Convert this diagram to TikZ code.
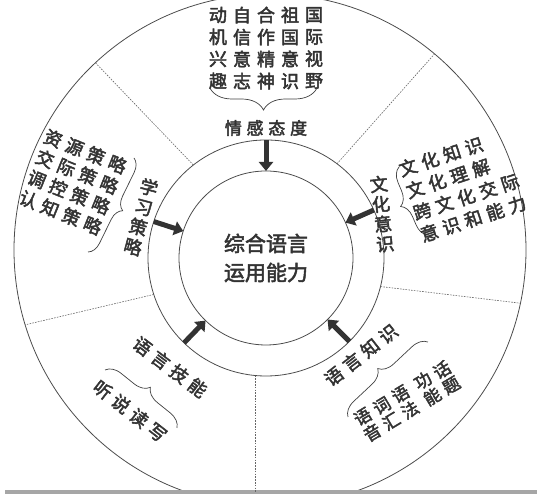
\documentclass[tikz,border=0pt]{standalone}
\usepackage{fontspec}
\setmainfont[FakeBold=2.5]{Noto Sans CJK SC}
\newfontfamily\cjksp[LetterSpace=28,FakeBold=2.5]{Noto Sans CJK SC}
\usetikzlibrary{arrows.meta,decorations.pathreplacing}

\begin{document}
\begin{tikzpicture}
	[x=1pt,y=1pt,
	ring/.style={circle,draw=black!70,line width=0.8pt,inner sep=0pt,outer sep=0pt},
	sep/.style={draw=black!60,line width=0.6pt,dash pattern=on 1.6pt off 1.2pt},
	push/.style={draw=black!80,line width=5pt,-{Triangle[length=9pt,width=14pt]}},
	grp/.style={draw=black!75,line width=0.7pt,decorate,decoration={brace,amplitude=#1}},
	grp/.default=15pt,
	head/.style={text=black!80,font=\cjksp\fontsize{18}{23}\selectfont,inner sep=0pt},
	col/.style={text=black!80,align=center,font=\fontsize{18}{22}\selectfont,inner sep=0pt}]
	\useasboundingbox (0,0) rectangle (542,500);
	\coordinate (bl) at (5,8);
	\coordinate (br) at (537,8);
	% rings
	\begin{scope}
		\clip (0,8) rectangle (542,500);
		\node[ring,minimum size=512pt] (outer) at (270,250) {};
	\end{scope}
	\node[ring,minimum size=236pt] (mid) at (266,242) {};
	\node[ring,minimum size=174pt,align=center,text=black!80,
		font=\fontsize{21}{29}\selectfont] (core) at (266,242) {综合语言\\运用能力};
	\draw[black!35,line width=3.5pt] (bl) -- (br);
	% sectors
	\foreach \a/\b in {53/50,128/133,198/197.6,346/348}
	{
		\draw[sep] (mid.\a) -- (outer.\b);
	}
	\draw[sep] (mid.265.6) -- (mid.265.6 |- bl);
	\foreach \a in {90,24,162,226,315}
	{
		\draw[push] (mid.\a) -- (core.\a);
	}
	% top
	\foreach \t [count=\i] in {{动\\机\\兴\\趣},{自\\信\\意\\志},{合\\作\\精\\神},{祖\\国\\意\\识},{国\\际\\视\\野}}
	{
		\node[col] (emo\i) at (194+24*\i,452) {\t};
	}
	\draw[grp=22pt] (317,412) -- (210,412);
	\node[head,font=\cjksp\fontsize{17}{22}\selectfont] (emo) at (266,372) {情感态度};
	% left
	\node[head,rotate=-22,align=center,font=\cjksp\fontsize{18}{22}\selectfont] (strats) at (73,318)
		{资源策略\\交际策略\\调控策略\\认知策略};
	\draw[grp=13pt] (134,342) -- (88,248);
	\node[col,rotate=-15,font=\fontsize{18}{20.5}\selectfont] (stra) at (141,283) {学\\习\\策\\略};
	% right
	\node[col,rotate=6,font=\fontsize{18}{20}\selectfont] (cult) at (382,286) {文\\化\\意\\识};
	\draw[grp=14pt] (428,265) -- (399,333);
	\node[head,align=left,rotate=18,anchor=west] (cults) at (410,297)
		{文化知识\\文化理解\\跨文化交际\\意识和能力};
	% lower right
	\node[head,rotate=38] (know) at (361,145) {语言知识};
	\draw[grp] (348,83) -- (428,158);
	\node[col,rotate=31,font=\fontsize{17}{19}\selectfont] (knows) at (407,99)
		{\shortstack{语\\音}\hspace{5pt}\shortstack{词\\汇}\hspace{5pt}\shortstack{语\\法}%
		\hspace{9pt}\shortstack{功\\能}\hspace{5pt}\shortstack{话\\题}};
	% lower left
	\node[head,rotate=-37] (skill) at (170,133) {语言技能};
	\draw[grp] (105,130) -- (177,72);
	\node[head,rotate=-38] (skills) at (130,89) {听说读写};
\end{tikzpicture}
\end{document}
